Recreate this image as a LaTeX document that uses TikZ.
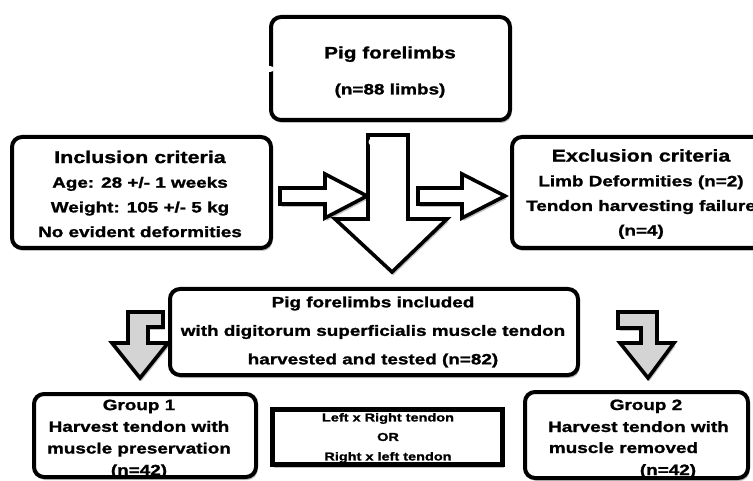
\documentclass[tikz,border=0pt]{standalone}
\usepackage{fontspec}
\setmainfont{Liberation Sans}[FakeStretch=1.26, BoldFeatures={FakeBold=1.3}]
\usetikzlibrary{shadows}
\tikzset{
  shad/.style={drop shadow={shadow xshift=1.5pt, shadow yshift=-3pt, opacity=0.3, fill=black!80}},
  rbox/.style={draw=black, line width=4pt, rounded corners=10pt, fill=white, shad, inner sep=0pt},
  sbox/.style={draw=black, line width=5pt, fill=white, shad, inner sep=0pt},
  warrow/.style={draw=black, line width=3.6pt, fill=white, line join=miter, shad},
  garrow/.style={draw=black, line width=3.6pt, fill=black!17, line join=miter, shad},
  txt/.style={align=center, inner sep=0pt, font=\bfseries\fontsize{15}{24.7}\selectfont},
  ln/.style={anchor=base, inner sep=0pt, font=\bfseries\fontsize{15}{18}\selectfont},
}
\begin{document}
\begin{tikzpicture}[x=1pt,y=-1pt]
\useasboundingbox (0,0) rectangle (753,481);
\clip (0,0) rectangle (753,481);
\fill[white] (0,0) rectangle (753,481);

% boxes
\node[rbox, minimum width=239pt, minimum height=103pt] (top) at (390.5,68.5) {};
\node[rbox, minimum width=259pt, minimum height=111pt] (inc) at (141.5,192.5) {};
\node[rbox, minimum width=261pt, minimum height=111pt] (exc) at (642.5,192.5) {};
\node[rbox, minimum width=408pt, minimum height=86pt] (mid) at (374,332) {};
\node[rbox, minimum width=222pt, minimum height=83pt] (g1) at (145,435.5) {};
\node[rbox, minimum width=223pt, minimum height=86pt] (g2) at (636.5,435) {};
\node[sbox, minimum width=230pt, minimum height=55pt] (lr) at (387.5,437) {};

% white arrows
\draw[warrow] (280,188) -- (325,188) -- (325,174) -- (367,196) -- (325,218) -- (325,204) -- (280,204) -- cycle;
\draw[warrow] (418,188) -- (462,188) -- (462,174) -- (505,196) -- (462,218) -- (462,204) -- (418,204) -- cycle;
\draw[warrow] (368,135) -- (408,135) -- (408,219) -- (447,219) -- (392,272) -- (335,219) -- (368,219) -- cycle;
\fill[white] (372,142) circle (3.5pt);
\fill[white] (270,69) ellipse (4pt and 3pt);

% gray arrows
\draw[garrow] (128,312) -- (163,312) -- (163,327) -- (148,327) -- (148,343) -- (168,343) -- (140,378) -- (112,343) -- (128,343) -- cycle;
\draw[garrow] (618,312) -- (657,312) -- (657,343) -- (674,343) -- (648,378) -- (620,343) -- (641,343) -- (641,328) -- (618,328) -- cycle;

% texts
\node[txt, font=\bfseries\fontsize{15}{36}\selectfont] (ttop) at (390,72)
  {{\fontsize{16.5}{36}\selectfont Pig forelimbs}\\(n=88 limbs)};
\node[txt] (tinc) at (140,194)
  {{\fontsize{17}{24.7}\selectfont Inclusion criteria}\\Age: 28 +/- 1 weeks\\Weight: 105 +/- 5 kg\\No evident deformities};
\node[txt] (texc) at (641,194)
  {{\fontsize{17}{24.7}\selectfont Exclusion criteria}\\Limb Deformities (n=2)\\Tendon harvesting failure\\(n=4)};
\node[txt, font=\bfseries\fontsize{15}{28.5}\selectfont] (tmid) at (373,332)
  {Pig forelimbs included\\with digitorum superficialis muscle tendon\\harvested and tested (n=82)};
\node[txt, font=\bfseries\fontsize{15}{21.7}\selectfont] (tg1) at (139,439)
  {Group 1\\Harvest tendon with\\muscle preservation\\(n=42)};
\node[txt, font=\bfseries\fontsize{11.5}{19.5}\selectfont] (tlr) at (388,438)
  {Left x Right tendon\\OR\\Right x left tendon};
\node[ln] (g2a) at (646,410) {Group 2};
\node[ln] (g2b) at (638.5,432) {Harvest tendon with};
\node[ln] (g2c) at (623.5,453) {muscle removed};
\node[ln] (g2d) at (668,475) {(n=42)};
\end{tikzpicture}
\end{document}
